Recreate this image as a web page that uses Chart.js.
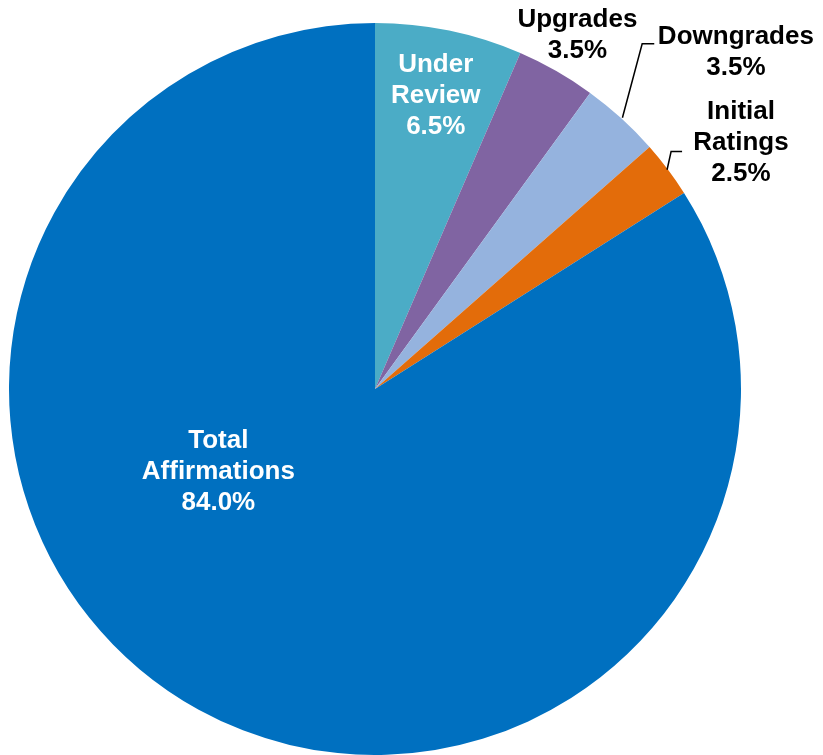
<!DOCTYPE html>
<html>
<head>
<meta charset="utf-8">
<script src="https://cdn.jsdelivr.net/npm/chart.js@4.4.0/dist/chart.umd.min.js"></script>
<style>
  html, body { margin: 0; padding: 0; background: #fff; }
  #wrap { width: 823px; height: 755px; }
</style>
</head>
<body>
<div id="wrap"><canvas id="grafico"></canvas></div>
<script>
// categorias y porcentajes, en orden de las manecillas desde las 12
const categorias = ['Under Review', 'Upgrades', 'Downgrades', 'Initial Ratings', 'Total Affirmations'];
const porcentajes = [6.5, 3.5, 3.5, 2.5, 84.0];
const colores = ['#4BACC6', '#8064A2', '#95B3DE', '#E36C0A', '#0070C0'];

// lineas de cada etiqueta (el ultimo renglon es el valor)
const lineasEtiqueta = [
    ['Under', 'Review'],
    ['Upgrades'],
    ['Downgrades'],
    ['Initial', 'Ratings'],
    ['Total', 'Affirmations']
];

// posicion de cada etiqueta relativa al centro, en fracciones del radio
const posEtiqueta = [
    { x: 0.166, y: -0.801, color: '#fff' },
    { x: 0.553, y: -0.967, color: '#000' },
    { x: 0.986, y: -0.921, color: '#000' },
    { x: 1.000, y: -0.673, color: '#000' },
    { x: -0.428, y: 0.226, color: '#fff' }
];

// lineas guia (indice de la porcion -> puntos en fracciones del radio)
const guias = {
    2: [[0.676, -0.741], [0.730, -0.943], [0.763, -0.943]],
    3: [[0.798, -0.599], [0.809, -0.649], [0.839, -0.649]]
};

const etiquetasPlugin = {
    id: 'etiquetas',
    afterDatasetsDraw(chart) {
        const ctx = chart.ctx;
        const meta = chart.getDatasetMeta(0);
        const arc = meta.data[0];
        const cx = arc.x, cy = arc.y, r = arc.outerRadius;

        ctx.save();
        ctx.strokeStyle = '#000';
        ctx.lineWidth = 1.5;
        Object.keys(guias).forEach(i => {
            const pts = guias[i];
            ctx.beginPath();
            pts.forEach((p, k) => {
                const px = cx + p[0] * r, py = cy + p[1] * r;
                if (k === 0) ctx.moveTo(px, py); else ctx.lineTo(px, py);
            });
            ctx.stroke();
        });

        ctx.font = 'bold 26px "Liberation Sans", Arial, sans-serif';
        ctx.textAlign = 'center';
        ctx.textBaseline = 'middle';
        const alto = 31;
        chart.data.labels.forEach((lab, i) => {
            const valor = chart.data.datasets[0].data[i];
            const lineas = lineasEtiqueta[i].concat([valor.toFixed(1) + '%']);
            const p = posEtiqueta[i];
            const x = cx + p.x * r;
            const y0 = cy + p.y * r - (lineas.length - 1) * alto / 2;
            ctx.fillStyle = p.color;
            lineas.forEach((t, k) => ctx.fillText(t, x, y0 + k * alto));
        });
        ctx.restore();
    }
};

new Chart(document.getElementById('grafico'), {
    type: 'pie',
    data: {
        labels: categorias,
        datasets: [{
            data: porcentajes,
            backgroundColor: colores,
            borderWidth: 0
        }]
    },
    options: {
        responsive: true,
        maintainAspectRatio: false,
        animation: false,
        layout: {
            padding: { left: 8, right: 81, top: 23, bottom: -2 }
        },
        plugins: {
            legend: { display: false },
            tooltip: { enabled: false }
        }
    },
    plugins: [etiquetasPlugin]
});
</script>
</body>
</html>
